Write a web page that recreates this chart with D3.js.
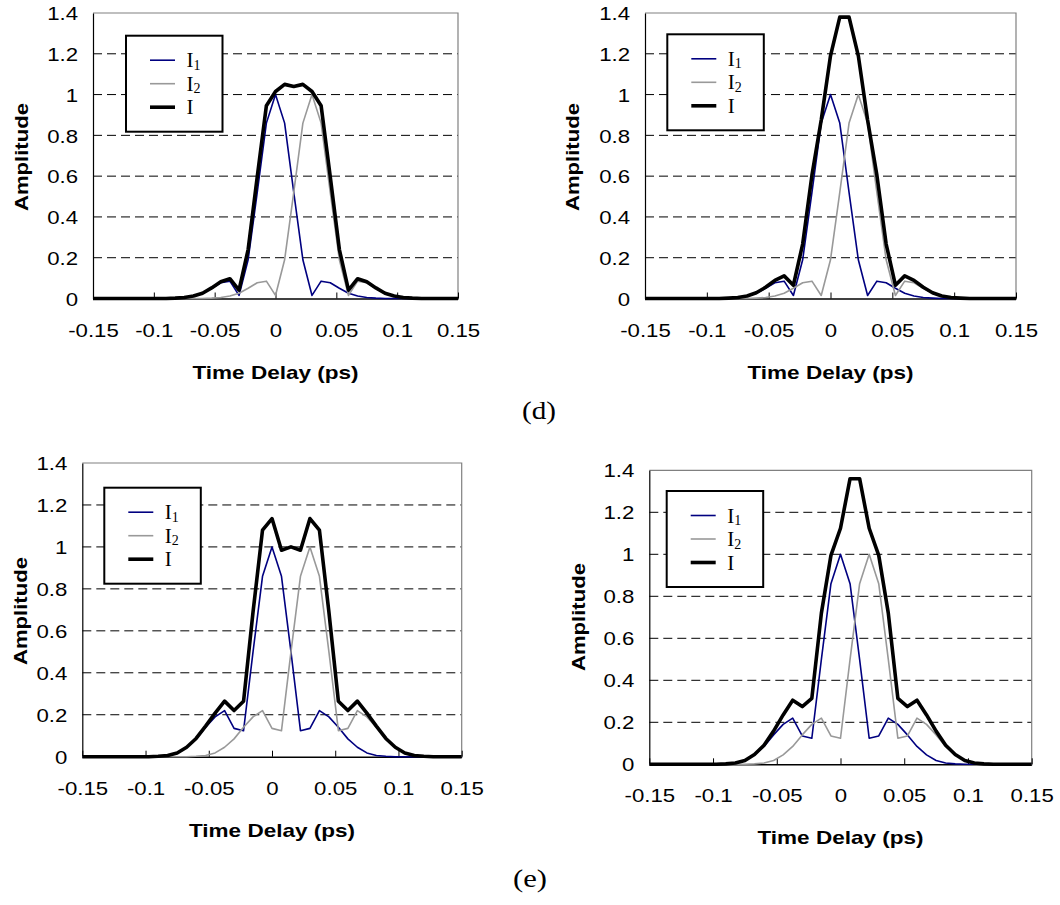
<!DOCTYPE html>
<html><head><meta charset="utf-8">
<script src="https://cdn.jsdelivr.net/npm/d3@7"></script>
<style>
html,body{margin:0;padding:0;background:#fff;}
svg{display:block;}
</style></head>
<body>
<svg id="chart" width="1060" height="905"></svg>
<script>
// ---------------- DATA ----------------
const timeDelay = [-0.15,-0.1425,-0.135,-0.1275,-0.12,-0.1125,-0.105,-0.0975,-0.09,-0.0825,-0.075,-0.0675,-0.06,-0.0525,-0.045,-0.0375,-0.03,-0.0225,-0.015,-0.0075,0,0.0075,0.015,0.0225,0.03,0.0375,0.045,0.0525,0.06,0.0675,0.075,0.0825,0.09,0.0975,0.105,0.1125,0.12,0.1275,0.135,0.1425,0.15];

// (d) top row
const i1D = [0,0,0,0,0,0,0,0,0,0.002,0.005,0.012,0.026,0.05,0.077,0.085,0.015,0.19,0.52,0.86,1,0.86,0.52,0.19,0.015,0.085,0.077,0.05,0.026,0.012,0.005,0.002,0,0,0,0,0,0,0,0,0];
const i2DLeft = [0,0,0,0,0,0,0,0,0,0,0,0,0,0.002,0.005,0.012,0.026,0.05,0.077,0.085,0.015,0.19,0.52,0.86,1,0.86,0.52,0.19,0.015,0.085,0.077,0.05,0.026,0.012,0.005,0.002,0,0,0,0,0];
const iDLeft = [0,0,0,0,0,0,0,0,0,0.002,0.005,0.012,0.026,0.052,0.082,0.097,0.041,0.24,0.597,0.945,1.015,1.05,1.04,1.05,1.015,0.945,0.597,0.24,0.041,0.097,0.082,0.052,0.026,0.012,0.005,0.002,0,0,0,0,0];
const i2DRight = [0,0,0,0,0,0,0,0,0,0,0,0,0.002,0.005,0.012,0.026,0.05,0.077,0.085,0.015,0.19,0.52,0.86,1,0.86,0.52,0.19,0.015,0.085,0.077,0.05,0.026,0.012,0.005,0.002,0,0,0,0,0,0];
const iDRight = [0,0,0,0,0,0,0,0,0,0.002,0.005,0.012,0.028,0.055,0.089,0.111,0.065,0.267,0.605,0.875,1.19,1.38,1.38,1.19,0.875,0.605,0.267,0.065,0.111,0.089,0.055,0.028,0.012,0.005,0.002,0,0,0,0,0,0];

// (e) bottom row
const i1E = [0,0,0,0,0,0,0,0,0.002,0.006,0.018,0.045,0.085,0.14,0.19,0.22,0.135,0.124,0.5,0.86,1,0.86,0.5,0.124,0.135,0.22,0.19,0.14,0.085,0.045,0.018,0.006,0.002,0,0,0,0,0,0,0,0];
const i2ELeft = [0,0,0,0,0,0,0,0,0,0,0,0,0.002,0.006,0.018,0.045,0.085,0.14,0.19,0.22,0.135,0.124,0.5,0.86,1,0.86,0.5,0.124,0.135,0.22,0.19,0.14,0.085,0.045,0.018,0.006,0.002,0,0,0,0];
const iELeft = [0,0,0,0,0,0,0,0,0.002,0.006,0.018,0.045,0.087,0.146,0.208,0.265,0.22,0.264,0.69,1.08,1.135,0.984,1.0,0.984,1.135,1.08,0.69,0.264,0.22,0.265,0.208,0.146,0.087,0.045,0.018,0.006,0.002,0,0,0,0];
const i2ERight = [0,0,0,0,0,0,0,0,0,0,0,0.002,0.006,0.018,0.045,0.085,0.14,0.19,0.22,0.135,0.124,0.5,0.86,1,0.86,0.5,0.124,0.135,0.22,0.19,0.14,0.085,0.045,0.018,0.006,0.002,0,0,0,0,0];
const iERight = [0,0,0,0,0,0,0,0,0.002,0.006,0.018,0.047,0.091,0.158,0.235,0.305,0.275,0.314,0.72,0.995,1.124,1.36,1.36,1.124,0.995,0.72,0.314,0.275,0.305,0.235,0.158,0.091,0.047,0.018,0.006,0.002,0,0,0,0,0];

const seriesNames = ["I1","I2","I"];
const xTickValues = [-0.15,-0.1,-0.05,0,0.05,0.1,0.15];
const xTickLabels = ["-0.15","-0.1","-0.05","0","0.05","0.1","0.15"];
const yTickValues = [0,0.2,0.4,0.6,0.8,1,1.2,1.4];
const yTickLabels = ["0","0.2","0.4","0.6","0.8","1","1.2","1.4"];
const gridValues = [0.2,0.4,0.6,0.8,1,1.2];
const xTitle = "Time Delay (ps)";
const yTitle = "Amplitude";
const captions = ["(d)","(e)"];

// ---------------- LAYOUT ----------------
const panels = [
  {left:93,    right:458,    top:13,    bottom:298.5, legX:126,   legY:35.7,  ampX:21,  ampY:157, series:[i1D,i2DLeft,iDLeft]},
  {left:645,   right:1016,   top:13,    bottom:298.5, legX:667.3, legY:34.3,  ampX:572, ampY:157, series:[i1D,i2DRight,iDRight]},
  {left:82.3,  right:461.7,  top:463,   bottom:756.7, legX:104.3, legY:487.7, ampX:20,  ampY:611, series:[i1E,i2ELeft,iELeft]},
  {left:649.3, right:1031.7, top:470.3, bottom:764.3, legX:666.7, legY:491,   ampX:578, ampY:617, series:[i1E,i2ERight,iERight]}
];
const captionPos = [{x:539,y:419},{x:530,y:887}];
const colors = ["#000080","#999999","#000000"];
const widths = [1.6,1.6,3.6];
const SANS = "'Liberation Sans', Arial, Helvetica, sans-serif";
const SERIF = "'Liberation Serif', 'Times New Roman', serif";

const svg = d3.select("#chart");

function stretch(sel, f){
  sel.each(function(){
    const l = this.getComputedTextLength();
    this.setAttribute("textLength", l*f);
    this.setAttribute("lengthAdjust","spacingAndGlyphs");
  });
}
function fitTo(sel, w){
  sel.attr("textLength", w).attr("lengthAdjust","spacingAndGlyphs");
}

panels.forEach((p) => {
  const x = d3.scaleLinear().domain([-0.15,0.15]).range([p.left,p.right]);
  const y = d3.scaleLinear().domain([0,1.4]).range([p.bottom,p.top]);
  const g = svg.append("g");

  // gridlines
  g.selectAll("line.grid").data(gridValues).enter().append("line")
    .attr("x1",p.left).attr("x2",p.right)
    .attr("y1",d=>y(d)).attr("y2",d=>y(d))
    .attr("stroke","#000").attr("stroke-width",1)
    .attr("stroke-dasharray","9,5");

  // gray frame top/right
  g.append("path")
    .attr("d",`M${p.left},${p.top}H${p.right}V${p.bottom}`)
    .attr("fill","none").attr("stroke","#808080").attr("stroke-width",1.2);

  // axes
  const xAxis = d3.axisBottom(x).tickValues(xTickValues)
    .tickFormat((d,i)=>xTickLabels[i]).tickSizeInner(-6).tickSizeOuter(0);
  const xg = g.append("g").attr("transform",`translate(0,${p.bottom})`).call(xAxis);
  xg.select(".domain").attr("stroke","#000").attr("stroke-width",1.4);
  xg.selectAll(".tick line").attr("stroke","#000").attr("stroke-width",1);
  xg.selectAll(".tick text").attr("y",38).attr("dy",null)
    .attr("font-family",SANS).attr("font-size",18.5).attr("fill","#000");
  stretch(xg.selectAll(".tick text"),1.2);

  const yAxis = d3.axisLeft(y).tickValues(yTickValues)
    .tickFormat((d,i)=>yTickLabels[i]).tickSize(0).tickPadding(15);
  const yg = g.append("g").attr("transform",`translate(${p.left},0)`).call(yAxis);
  yg.select(".domain").attr("stroke","#000").attr("stroke-width",1.2);
  yg.selectAll(".tick text").attr("dy","0.36em")
    .attr("font-family",SANS).attr("font-size",18.5).attr("fill","#000");
  stretch(yg.selectAll(".tick text"),1.2);

  // titles
  const xt = g.append("text").attr("x",(p.left+p.right)/2).attr("y",p.bottom+80)
    .attr("text-anchor","middle").attr("font-family",SANS).attr("font-weight","bold")
    .attr("font-size",19).text(xTitle);
  fitTo(xt,166);
  const yt = g.append("text")
    .attr("transform",`translate(${p.ampX+6.5},${p.ampY}) rotate(-90)`)
    .attr("text-anchor","middle").attr("font-family",SANS).attr("font-weight","bold")
    .attr("font-size",18).text(yTitle);
  fitTo(yt,108);

  // lines
  const line = d3.line().x((d,i)=>x(timeDelay[i])).y(d=>y(d));
  p.series.forEach((s,si)=>{
    g.append("path").datum(s).attr("d",line)
      .attr("fill","none").attr("stroke",colors[si]).attr("stroke-width",widths[si])
      .attr("stroke-linejoin","round");
  });

  // legend
  const lg = g.append("g").attr("transform",`translate(${p.legX},${p.legY})`);
  lg.append("rect").attr("width",96.5).attr("height",96).attr("fill","#fff")
    .attr("stroke","#000").attr("stroke-width",2);
  seriesNames.forEach((name,i)=>{
    const ry = 24.5 + i*23.5;
    lg.append("line").attr("x1",24).attr("x2",49).attr("y1",ry).attr("y2",ry)
      .attr("stroke",colors[i]).attr("stroke-width",widths[i]);
    const t = lg.append("text").attr("x",60.5).attr("y",ry+7)
      .attr("font-family",SERIF).attr("font-size",21).attr("fill","#000");
    t.append("tspan").text(name.charAt(0));
    if(name.length>1){
      t.append("tspan").attr("font-size",14).attr("dy",2.5).text(name.slice(1));
    }
  });
});

captions.forEach((c,i)=>{
  const t = svg.append("text").attr("x",captionPos[i].x).attr("y",captionPos[i].y)
    .attr("text-anchor","middle").attr("font-family",SERIF).attr("font-size",26)
    .attr("fill","#000").text(c);
  fitTo(t,34);
});
</script>
</body></html>
